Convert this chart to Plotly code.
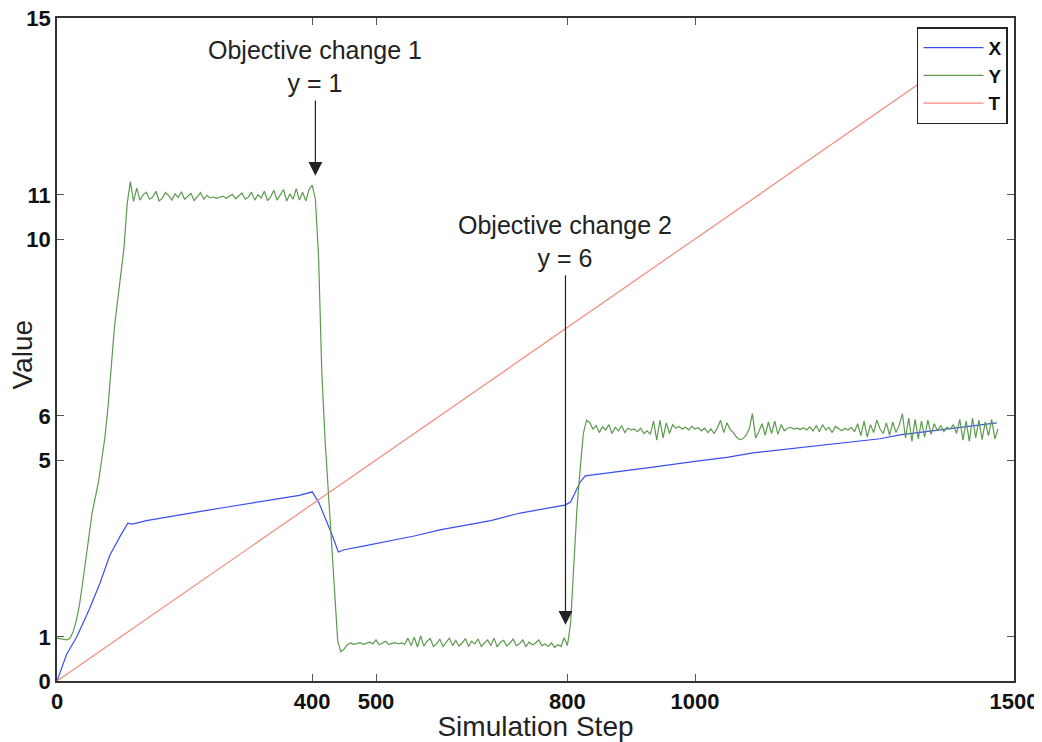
import plotly.graph_objects as go

# ---- data ----
x_steps = [0, 8, 15, 31, 50, 67, 83, 100, 111, 118,
           140, 170, 200, 230, 260, 290, 320, 350, 380, 400,
           410, 420, 430, 441, 450, 480, 520, 560, 600, 640,
           680, 726, 760, 796, 805, 812, 820, 828, 850, 900,
           934, 1000, 1050, 1091, 1170, 1248, 1290, 1321, 1360, 1404,
           1440, 1473]
x_values = [0.0, 0.3, 0.6, 1.0, 1.6, 2.2, 2.85, 3.3, 3.57, 3.55,
            3.63, 3.7, 3.78, 3.85, 3.92, 3.99, 4.06, 4.12, 4.2, 4.28,
            4.05, 3.7, 3.35, 2.92, 2.97, 3.05, 3.17, 3.28, 3.42, 3.52,
            3.63, 3.8, 3.88, 3.98, 4.05, 4.25, 4.5, 4.64, 4.68, 4.77,
            4.84, 4.97, 5.06, 5.16, 5.29, 5.41, 5.48, 5.57, 5.64, 5.72,
            5.78, 5.84]

# Y sampled every 5 simulation steps, 0 .. 1475
y_start = [0.97, 0.96, 0.94, 0.93, 0.96, 1.1, 1.35, 1.7, 2.2, 2.7,
           3.3, 3.8, 4.15, 4.5, 5.0, 5.5, 6.2, 7.2, 8.0, 8.6,
           9.2, 9.8, 10.8, 11.3]
y_plateau1 = [10.85, 11.15, 10.88, 11.0, 11.06, 10.9, 10.95, 11.08, 10.86, 10.92,
              11.05, 10.98, 10.88, 11.02, 10.94, 11.07, 10.9, 10.96, 11.03, 10.87,
              10.95, 11.05, 10.9, 10.99, 10.93, 10.95, 10.92, 10.94, 10.97, 10.92,
              10.96, 11.01, 10.91, 10.97, 11.04, 10.9, 10.95, 11.06, 10.88, 11.0,
              10.93, 11.08, 10.87, 10.96, 11.1, 10.88, 11.0, 11.12, 10.86, 11.02,
              10.9, 11.14, 10.88, 11.06, 10.86, 11.12, 11.22]
y_drop = [10.9, 9.6, 7.0, 5.5, 4.3, 3.2, 2.1, 0.9, 0.66]
y_plateau2 = [0.72, 0.82, 0.86, 0.83, 0.85, 0.87, 0.83, 0.85, 0.88, 0.84,
              0.93, 0.82, 0.86, 0.9, 0.83, 0.85, 0.87, 0.84, 0.86, 0.83,
              0.97, 0.8, 0.99, 0.77, 1.02, 0.79, 0.9, 0.96, 0.78, 0.84,
              0.95, 0.78, 0.88, 0.97, 0.8, 0.92, 0.79, 0.86, 0.96, 0.78,
              0.9, 0.84, 0.95, 0.78, 0.86, 0.93, 0.8, 0.97, 0.77, 0.88,
              0.92, 0.79, 0.86, 0.95, 0.8, 0.84, 0.93, 0.78, 0.88, 0.82,
              0.86, 0.93, 0.8, 0.84, 0.78, 0.86, 0.76, 0.82, 0.78, 0.98,
              0.8]
y_rise = [1.3, 2.6, 3.9, 4.8, 5.6, 5.9]
y_plateau3 = [5.85, 5.7, 5.78, 5.62, 5.75, 5.68, 5.8, 5.6, 5.74, 5.66,
              5.78, 5.62, 5.72, 5.68, 5.7, 5.64, 5.72, 5.6, 5.66, 5.58,
              5.88, 5.45, 5.9, 5.5, 5.84, 5.6, 5.8, 5.72, 5.76, 5.7,
              5.74, 5.68, 5.76, 5.7, 5.73, 5.66, 5.72, 5.62, 5.7, 5.6,
              5.72, 5.9, 5.62, 5.84, 5.7, 5.62, 5.52, 5.46, 5.48, 5.56,
              5.7, 6.05, 5.5, 5.64, 5.82, 5.56, 5.86, 5.6, 5.88, 5.58,
              5.8, 5.66, 5.72, 5.74, 5.7, 5.72, 5.69, 5.73, 5.68, 5.75,
              5.66, 5.78, 5.64, 5.8, 5.68, 5.74, 5.62, 5.76, 5.7, 5.66,
              5.72, 5.68, 5.74, 5.64, 5.82, 5.55, 5.88, 5.52, 5.8, 5.62,
              5.9, 5.7, 5.6, 5.84, 5.56, 5.86, 5.62, 5.78, 6.05, 5.5,
              5.95, 5.42, 5.92, 5.48, 5.88, 5.52, 5.9, 5.58, 5.82, 5.66,
              5.78, 5.64, 5.74, 5.7, 5.8, 5.6, 5.92, 5.45, 5.88, 5.42,
              5.95, 5.5, 5.9, 5.46, 5.86, 5.55, 5.92, 5.48, 5.7]
y_values = y_start + y_plateau1 + y_drop + y_plateau2 + y_rise + y_plateau3
y_step_size = 5
y_steps = [y_step_size * i for i in range(len(y_values))]

t_steps = [0, 1475]
t_values = [0.0, 14.75]

x_tickvals = [0, 400, 500, 800, 1000, 1500]
y_tickvals = [0, 1, 5, 6, 10, 11, 15]

FONT = "Liberation Sans, Arial, Helvetica, sans-serif"

fig = go.Figure()
fig.add_trace(go.Scatter(x=x_steps, y=x_values, mode="lines", name="X",
                         line=dict(color="#3b4ff0", width=1.2)))
fig.add_trace(go.Scatter(x=y_steps, y=y_values, mode="lines", name="Y",
                         line=dict(color="#5c9a4e", width=1.2)))
fig.add_trace(go.Scatter(x=t_steps, y=t_values, mode="lines", name="T",
                         line=dict(color="#f4887c", width=1.2)))

ann_font = dict(family=FONT, size=25, color="#222")
fig.add_annotation(x=405, y=11.43, ax=405, ay=13.9, xref="x", yref="y",
                   axref="x", ayref="y", text="Objective change 1<br>y = 1",
                   showarrow=True, arrowhead=2, arrowsize=2.3, arrowwidth=1.2,
                   arrowcolor="#222", font=ann_font, standoff=0, startstandoff=2)
fig.add_annotation(x=797, y=1.27, ax=797, ay=9.95, xref="x", yref="y",
                   axref="x", ayref="y", text="Objective change 2<br>y = 6",
                   showarrow=True, arrowhead=2, arrowsize=2.3, arrowwidth=1.2,
                   arrowcolor="#222", font=ann_font, standoff=0, startstandoff=2)

# y-axis title placed as an annotation to sit where the reference has it
fig.add_annotation(x=0, y=0.5, xref="paper", yref="paper", text="Value",
                   textangle=-90, showarrow=False, xanchor="center", yanchor="middle",
                   xshift=-35, yshift=-5, font=dict(family=FONT, size=28, color="#222"))

axis_common = dict(showline=True, linecolor="#333", linewidth=1.5, mirror="ticks",
                   ticks="inside", ticklen=7, tickwidth=1, tickcolor="#555",
                   showgrid=False, zeroline=False, ticklabeloverflow="allow",
                   tickfont=dict(family=FONT, size=22, color="#111", weight="bold"))

fig.update_xaxes(range=[0, 1500], tickvals=x_tickvals,
                 ticktext=[str(v) for v in x_tickvals],
                 title=dict(text="Simulation Step", font=dict(family=FONT, size=28, color="#222"),
                            standoff=1),
                 **axis_common)
fig.update_yaxes(range=[0, 15], tickvals=y_tickvals,
                 ticktext=[str(v) for v in y_tickvals],
                 **axis_common)

# the page body has an 8px margin, so the figure is 8px smaller and margins shifted
fig.update_layout(
    width=1034, height=734,
    margin=dict(l=49, r=28, t=10, b=61, autoexpand=False),
    paper_bgcolor="white", plot_bgcolor="white",
    showlegend=True,
    legend=dict(x=0.9937, y=0.986, xanchor="right", yanchor="top",
                bgcolor="white", bordercolor="#222", borderwidth=1.5,
                font=dict(family=FONT, size=19, color="#111", weight="bold"),
                tracegroupgap=0, itemwidth=60),
)

fig.write_html("out.html")
